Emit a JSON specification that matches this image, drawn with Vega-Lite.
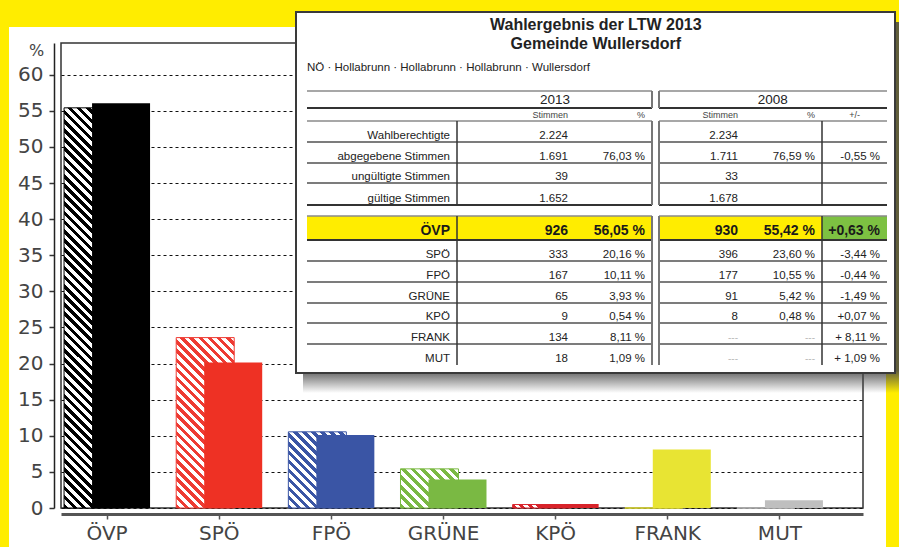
{
"$schema":"https://vega.github.io/schema/vega-lite/v6.json",
"width":802,"height":465,"autosize":"none",
"padding":{"left":61,"top":43,"right":36,"bottom":39},
"background":"#ffffff",
"config":{"view":{"stroke":"#333333","strokeWidth":1.5},"font":"DejaVu Sans"},
"datasets":{
"page":[{"x0":0,"x1":3,"y0":0,"y1":1},{"x0":0,"x1":1,"y0":0,"y1":2},{"x0":2,"x1":3,"y0":0,"y1":2}],
"votes":[
{"party":"ÖVP","year":"2008","pct":55.42},{"party":"SPÖ","year":"2008","pct":23.60},{"party":"FPÖ","year":"2008","pct":10.55},{"party":"GRÜNE","year":"2008","pct":5.42},{"party":"KPÖ","year":"2008","pct":0.48},{"party":"FRANK","year":"2008","pct":0},{"party":"MUT","year":"2008","pct":0},
{"party":"ÖVP","year":"2013","pct":56.05},{"party":"SPÖ","year":"2013","pct":20.16},{"party":"FPÖ","year":"2013","pct":10.11},{"party":"GRÜNE","year":"2013","pct":3.93},{"party":"KPÖ","year":"2013","pct":0.54},{"party":"FRANK","year":"2013","pct":8.11},{"party":"MUT","year":"2013","pct":1.09}],
"rects":[{"k":"shadow","c":-1,"c2":9,"r":-5,"r2":16},{"k":"box","c":-2,"c2":8,"r":-6,"r2":15},{"k":"yel","c":0,"c2":3,"r":7,"r2":8},{"k":"yel","c":4,"c2":6,"r":7,"r2":8},{"k":"grn","c":6,"c2":7,"r":7,"r2":8}],
"hl":[
{"k":"light","c":0,"c2":3,"r":0},{"k":"light","c":4,"c2":7,"r":0},
{"k":"thick","c":0,"c2":3,"r":1},{"k":"thick","c":4,"c2":7,"r":1},
{"k":"light","c":0,"c2":3,"r":2},{"k":"light","c":4,"c2":7,"r":2},
{"k":"mid","c":0,"c2":3,"r":3},{"k":"mid","c":4,"c2":7,"r":3},
{"k":"mid","c":0,"c2":3,"r":4},{"k":"mid","c":4,"c2":7,"r":4},
{"k":"mid","c":0,"c2":3,"r":5},{"k":"mid","c":4,"c2":7,"r":5},
{"k":"thick","c":0,"c2":3,"r":6},{"k":"thick","c":4,"c2":7,"r":6},
{"k":"light","c":0,"c2":3,"r":7},{"k":"light","c":4,"c2":7,"r":7},
{"k":"thick","c":0,"c2":3,"r":8},{"k":"thick","c":4,"c2":7,"r":8},
{"k":"mid","c":0,"c2":3,"r":9},{"k":"mid","c":4,"c2":7,"r":9},
{"k":"mid","c":0,"c2":3,"r":10},{"k":"mid","c":4,"c2":7,"r":10},
{"k":"mid","c":0,"c2":3,"r":11},{"k":"mid","c":4,"c2":7,"r":11},
{"k":"mid","c":0,"c2":3,"r":12},{"k":"mid","c":4,"c2":7,"r":12},
{"k":"mid","c":0,"c2":3,"r":13},{"k":"mid","c":4,"c2":7,"r":13}],
"vl":[
{"k":"dark","c":1,"r":2,"r2":6},{"k":"dark","c":1,"r":7,"r2":14},
{"k":"gray","c":3,"r":0,"r2":1},{"k":"gray","c":3,"r":2,"r2":6},{"k":"gray","c":3,"r":7,"r2":14},
{"k":"gray","c":4,"r":0,"r2":1},{"k":"gray","c":4,"r":2,"r2":6},{"k":"gray","c":4,"r":7,"r2":14},
{"k":"dark","c":6,"r":2,"r2":6},{"k":"dark","c":6,"r":7,"r2":14}],
"cells":[
{"k":"title","t":"Wahlergebnis der LTW 2013","c":2.27,"r":-4},
{"k":"title","t":"Gemeinde Wullersdorf","c":2.27,"r":-3},
{"k":"subt","t":"NÖ · Hollabrunn · Hollabrunn · Hollabrunn · Wullersdorf","c":0,"r":-2},
{"k":"head","t":"2013","c":1.83,"r":1},
{"k":"head","t":"2008","c":5.36,"r":1},
{"k":"sub","t":"Stimmen","c":2,"r":2},
{"k":"sub","t":"%","c":3,"r":2},
{"k":"sub","t":"Stimmen","c":5,"r":2},
{"k":"sub","t":"%","c":6,"r":2},
{"k":"subc","t":"+/-","c":6.5,"r":2},
{"k":"body","t":"Wahlberechtigte","c":1,"r":3},
{"k":"body","t":"2.224","c":2,"r":3},
{"k":"body","t":"2.234","c":5,"r":3},
{"k":"body","t":"abgegebene Stimmen","c":1,"r":4},
{"k":"body","t":"1.691","c":2,"r":4},
{"k":"body","t":"76,03 %","c":3,"r":4},
{"k":"body","t":"1.711","c":5,"r":4},
{"k":"body","t":"76,59 %","c":6,"r":4},
{"k":"body","t":"-0,55 %","c":7,"r":4},
{"k":"body","t":"ungültigte Stimmen","c":1,"r":5},
{"k":"body","t":"39","c":2,"r":5},
{"k":"body","t":"33","c":5,"r":5},
{"k":"body","t":"gültige Stimmen","c":1,"r":6},
{"k":"body","t":"1.652","c":2,"r":6},
{"k":"body","t":"1.678","c":5,"r":6},
{"k":"bold","t":"ÖVP","c":1,"r":8},
{"k":"bold","t":"926","c":2,"r":8},
{"k":"bold","t":"56,05 %","c":3,"r":8},
{"k":"bold","t":"930","c":5,"r":8},
{"k":"bold","t":"55,42 %","c":6,"r":8},
{"k":"bold","t":"+0,63 %","c":7,"r":8},
{"k":"body","t":"SPÖ","c":1,"r":9},
{"k":"body","t":"333","c":2,"r":9},
{"k":"body","t":"20,16 %","c":3,"r":9},
{"k":"body","t":"396","c":5,"r":9},
{"k":"body","t":"23,60 %","c":6,"r":9},
{"k":"body","t":"-3,44 %","c":7,"r":9},
{"k":"body","t":"FPÖ","c":1,"r":10},
{"k":"body","t":"167","c":2,"r":10},
{"k":"body","t":"10,11 %","c":3,"r":10},
{"k":"body","t":"177","c":5,"r":10},
{"k":"body","t":"10,55 %","c":6,"r":10},
{"k":"body","t":"-0,44 %","c":7,"r":10},
{"k":"body","t":"GRÜNE","c":1,"r":11},
{"k":"body","t":"65","c":2,"r":11},
{"k":"body","t":"3,93 %","c":3,"r":11},
{"k":"body","t":"91","c":5,"r":11},
{"k":"body","t":"5,42 %","c":6,"r":11},
{"k":"body","t":"-1,49 %","c":7,"r":11},
{"k":"body","t":"KPÖ","c":1,"r":12},
{"k":"body","t":"9","c":2,"r":12},
{"k":"body","t":"0,54 %","c":3,"r":12},
{"k":"body","t":"8","c":5,"r":12},
{"k":"body","t":"0,48 %","c":6,"r":12},
{"k":"body","t":"+0,07 %","c":7,"r":12},
{"k":"body","t":"FRANK","c":1,"r":13},
{"k":"body","t":"134","c":2,"r":13},
{"k":"body","t":"8,11 %","c":3,"r":13},
{"k":"dash","t":"---","c":5,"r":13},
{"k":"dash","t":"---","c":6,"r":13},
{"k":"body","t":"+ 8,11 %","c":7,"r":13},
{"k":"body","t":"MUT","c":1,"r":14},
{"k":"body","t":"18","c":2,"r":14},
{"k":"body","t":"1,09 %","c":3,"r":14},
{"k":"dash","t":"---","c":5,"r":14},
{"k":"dash","t":"---","c":6,"r":14},
{"k":"body","t":"+ 1,09 %","c":7,"r":14}]
},
"resolve":{"scale":{"x":"independent","y":"independent"}},
"layer":[
{"data":{"name":"page"},
 "mark":{"type":"rect","fill":"#FFED00"},
 "encoding":{
  "x":{"field":"x0","type":"quantitative","scale":{"domain":[0,1,2,3],"range":[-61,-52,825,838],"nice":false,"zero":false},"axis":null},
  "x2":{"field":"x1"},
  "y":{"field":"y0","type":"quantitative","scale":{"domain":[0,1,2],"range":[-43,-16,504],"nice":false,"zero":false},"axis":null},
  "y2":{"field":"y1"}}},
{"data":{"name":"votes"},
 "encoding":{
  "x":{"field":"party","type":"nominal","sort":null,
   "scale":{"domain":["ÖVP","SPÖ","FPÖ","GRÜNE","KPÖ","FRANK","MUT"],"paddingInner":0.1786,"paddingOuter":0.165,"align":0},
   "axis":{"title":null,"orient":"bottom","offset":6,"domainColor":"#555555","domainWidth":3,"tickColor":"#555555","tickWidth":1.5,"tickSize":5,"labelFont":"DejaVu Sans","labelFontSize":20,"labelColor":"#444444","labelPadding":4,"labelAngle":0,"grid":false}},
  "y":{"field":"pct","type":"quantitative",
   "scale":{"domain":[0,64.4],"nice":false},
   "axis":{"title":"%","titleAngle":0,"titleX":-18,"titleY":7,"titleAlign":"center","titleBaseline":"middle","titleFont":"DejaVu Sans","titleFontSize":16,"titleFontWeight":"normal","titleColor":"#444444","offset":7,"values":[0,5,10,15,20,25,30,35,40,45,50,55,60],"domainColor":"#222222","domainWidth":1.5,"tickColor":"#333333","tickSize":5,"tickWidth":1.5,"labelFont":"DejaVu Sans","labelFontSize":20,"labelColor":"#444444","labelPadding":6,"grid":true,"gridColor":"#111111","gridDash":[3,3],"gridWidth":1}}},
 "layer":[
  {"transform":[{"filter":"datum.year == '2008' && datum.party == 'ÖVP'"}],
   "mark":{"type":"bar","width":58,"xOffset":-14,"stroke":"#000000","strokeWidth":1,
    "fill":{"gradient":"linear","x1":0,"y1":1,"x2":0.1625,"y2":-0.1214,"stops":[
{"offset":0,"color":"#000"},{"offset":0.01,"color":"#000"},{"offset":0.01,"color":"#fff"},{"offset":0.02,"color":"#fff"},
{"offset":0.02,"color":"#000"},{"offset":0.03,"color":"#000"},{"offset":0.03,"color":"#fff"},{"offset":0.04,"color":"#fff"},
{"offset":0.04,"color":"#000"},{"offset":0.05,"color":"#000"},{"offset":0.05,"color":"#fff"},{"offset":0.06,"color":"#fff"},
{"offset":0.06,"color":"#000"},{"offset":0.07,"color":"#000"},{"offset":0.07,"color":"#fff"},{"offset":0.08,"color":"#fff"},
{"offset":0.08,"color":"#000"},{"offset":0.09,"color":"#000"},{"offset":0.09,"color":"#fff"},{"offset":0.1,"color":"#fff"},
{"offset":0.1,"color":"#000"},{"offset":0.11,"color":"#000"},{"offset":0.11,"color":"#fff"},{"offset":0.12,"color":"#fff"},
{"offset":0.12,"color":"#000"},{"offset":0.13,"color":"#000"},{"offset":0.13,"color":"#fff"},{"offset":0.14,"color":"#fff"},
{"offset":0.14,"color":"#000"},{"offset":0.15,"color":"#000"},{"offset":0.15,"color":"#fff"},{"offset":0.16,"color":"#fff"},
{"offset":0.16,"color":"#000"},{"offset":0.17,"color":"#000"},{"offset":0.17,"color":"#fff"},{"offset":0.18,"color":"#fff"},
{"offset":0.18,"color":"#000"},{"offset":0.19,"color":"#000"},{"offset":0.19,"color":"#fff"},{"offset":0.2,"color":"#fff"},
{"offset":0.2,"color":"#000"},{"offset":0.21,"color":"#000"},{"offset":0.21,"color":"#fff"},{"offset":0.22,"color":"#fff"},
{"offset":0.22,"color":"#000"},{"offset":0.23,"color":"#000"},{"offset":0.23,"color":"#fff"},{"offset":0.24,"color":"#fff"},
{"offset":0.24,"color":"#000"},{"offset":0.25,"color":"#000"},{"offset":0.25,"color":"#fff"},{"offset":0.26,"color":"#fff"},
{"offset":0.26,"color":"#000"},{"offset":0.27,"color":"#000"},{"offset":0.27,"color":"#fff"},{"offset":0.28,"color":"#fff"},
{"offset":0.28,"color":"#000"},{"offset":0.29,"color":"#000"},{"offset":0.29,"color":"#fff"},{"offset":0.3,"color":"#fff"},
{"offset":0.3,"color":"#000"},{"offset":0.31,"color":"#000"},{"offset":0.31,"color":"#fff"},{"offset":0.32,"color":"#fff"},
{"offset":0.32,"color":"#000"},{"offset":0.33,"color":"#000"},{"offset":0.33,"color":"#fff"},{"offset":0.34,"color":"#fff"},
{"offset":0.34,"color":"#000"},{"offset":0.35,"color":"#000"},{"offset":0.35,"color":"#fff"},{"offset":0.36,"color":"#fff"},
{"offset":0.36,"color":"#000"},{"offset":0.37,"color":"#000"},{"offset":0.37,"color":"#fff"},{"offset":0.38,"color":"#fff"},
{"offset":0.38,"color":"#000"},{"offset":0.39,"color":"#000"},{"offset":0.39,"color":"#fff"},{"offset":0.4,"color":"#fff"},
{"offset":0.4,"color":"#000"},{"offset":0.41,"color":"#000"},{"offset":0.41,"color":"#fff"},{"offset":0.42,"color":"#fff"},
{"offset":0.42,"color":"#000"},{"offset":0.43,"color":"#000"},{"offset":0.43,"color":"#fff"},{"offset":0.44,"color":"#fff"},
{"offset":0.44,"color":"#000"},{"offset":0.45,"color":"#000"},{"offset":0.45,"color":"#fff"},{"offset":0.46,"color":"#fff"},
{"offset":0.46,"color":"#000"},{"offset":0.47,"color":"#000"},{"offset":0.47,"color":"#fff"},{"offset":0.48,"color":"#fff"},
{"offset":0.48,"color":"#000"},{"offset":0.49,"color":"#000"},{"offset":0.49,"color":"#fff"},{"offset":0.5,"color":"#fff"},
{"offset":0.5,"color":"#000"},{"offset":0.51,"color":"#000"},{"offset":0.51,"color":"#fff"},{"offset":0.52,"color":"#fff"},
{"offset":0.52,"color":"#000"},{"offset":0.53,"color":"#000"},{"offset":0.53,"color":"#fff"},{"offset":0.54,"color":"#fff"},
{"offset":0.54,"color":"#000"},{"offset":0.55,"color":"#000"},{"offset":0.55,"color":"#fff"},{"offset":0.56,"color":"#fff"},
{"offset":0.56,"color":"#000"},{"offset":0.57,"color":"#000"},{"offset":0.57,"color":"#fff"},{"offset":0.58,"color":"#fff"},
{"offset":0.58,"color":"#000"},{"offset":0.59,"color":"#000"},{"offset":0.59,"color":"#fff"},{"offset":0.6,"color":"#fff"},
{"offset":0.6,"color":"#000"},{"offset":0.61,"color":"#000"},{"offset":0.61,"color":"#fff"},{"offset":0.62,"color":"#fff"},
{"offset":0.62,"color":"#000"},{"offset":0.63,"color":"#000"},{"offset":0.63,"color":"#fff"},{"offset":0.64,"color":"#fff"},
{"offset":0.64,"color":"#000"},{"offset":0.65,"color":"#000"},{"offset":0.65,"color":"#fff"},{"offset":0.66,"color":"#fff"},
{"offset":0.66,"color":"#000"},{"offset":0.67,"color":"#000"},{"offset":0.67,"color":"#fff"},{"offset":0.68,"color":"#fff"},
{"offset":0.68,"color":"#000"},{"offset":0.69,"color":"#000"},{"offset":0.69,"color":"#fff"},{"offset":0.7,"color":"#fff"},
{"offset":0.7,"color":"#000"},{"offset":0.71,"color":"#000"},{"offset":0.71,"color":"#fff"},{"offset":0.72,"color":"#fff"},
{"offset":0.72,"color":"#000"},{"offset":0.73,"color":"#000"},{"offset":0.73,"color":"#fff"},{"offset":0.74,"color":"#fff"},
{"offset":0.74,"color":"#000"},{"offset":0.75,"color":"#000"},{"offset":0.75,"color":"#fff"},{"offset":0.76,"color":"#fff"},
{"offset":0.76,"color":"#000"},{"offset":0.77,"color":"#000"},{"offset":0.77,"color":"#fff"},{"offset":0.78,"color":"#fff"},
{"offset":0.78,"color":"#000"},{"offset":0.79,"color":"#000"},{"offset":0.79,"color":"#fff"},{"offset":0.8,"color":"#fff"},
{"offset":0.8,"color":"#000"},{"offset":0.81,"color":"#000"},{"offset":0.81,"color":"#fff"},{"offset":0.82,"color":"#fff"},
{"offset":0.82,"color":"#000"},{"offset":0.83,"color":"#000"},{"offset":0.83,"color":"#fff"},{"offset":0.84,"color":"#fff"},
{"offset":0.84,"color":"#000"},{"offset":0.85,"color":"#000"},{"offset":0.85,"color":"#fff"},{"offset":0.86,"color":"#fff"},
{"offset":0.86,"color":"#000"},{"offset":0.87,"color":"#000"},{"offset":0.87,"color":"#fff"},{"offset":0.88,"color":"#fff"},
{"offset":0.88,"color":"#000"},{"offset":0.89,"color":"#000"},{"offset":0.89,"color":"#fff"},{"offset":0.9,"color":"#fff"},
{"offset":0.9,"color":"#000"},{"offset":0.91,"color":"#000"},{"offset":0.91,"color":"#fff"},{"offset":0.92,"color":"#fff"},
{"offset":0.92,"color":"#000"},{"offset":0.93,"color":"#000"},{"offset":0.93,"color":"#fff"},{"offset":0.94,"color":"#fff"},
{"offset":0.94,"color":"#000"},{"offset":0.95,"color":"#000"},{"offset":0.95,"color":"#fff"},{"offset":0.96,"color":"#fff"},
{"offset":0.96,"color":"#000"},{"offset":0.97,"color":"#000"},{"offset":0.97,"color":"#fff"},{"offset":0.98,"color":"#fff"},
{"offset":0.98,"color":"#000"},{"offset":0.99,"color":"#000"},{"offset":0.99,"color":"#fff"},{"offset":1,"color":"#fff"}]}}},
  {"transform":[{"filter":"datum.year == '2008' && datum.party == 'SPÖ'"}],
   "mark":{"type":"bar","width":58,"xOffset":-14,"stroke":"#ee3b33","strokeWidth":1,
    "fill":{"gradient":"linear","x1":0,"y1":1,"x2":0.4089,"y2":-0.2012,"stops":[
{"offset":0,"color":"#ee3b33"},{"offset":0.02,"color":"#ee3b33"},{"offset":0.02,"color":"#fff"},{"offset":0.04,"color":"#fff"},
{"offset":0.04,"color":"#ee3b33"},{"offset":0.06,"color":"#ee3b33"},{"offset":0.06,"color":"#fff"},{"offset":0.08,"color":"#fff"},
{"offset":0.08,"color":"#ee3b33"},{"offset":0.1,"color":"#ee3b33"},{"offset":0.1,"color":"#fff"},{"offset":0.12,"color":"#fff"},
{"offset":0.12,"color":"#ee3b33"},{"offset":0.14,"color":"#ee3b33"},{"offset":0.14,"color":"#fff"},{"offset":0.16,"color":"#fff"},
{"offset":0.16,"color":"#ee3b33"},{"offset":0.18,"color":"#ee3b33"},{"offset":0.18,"color":"#fff"},{"offset":0.2,"color":"#fff"},
{"offset":0.2,"color":"#ee3b33"},{"offset":0.22,"color":"#ee3b33"},{"offset":0.22,"color":"#fff"},{"offset":0.24,"color":"#fff"},
{"offset":0.24,"color":"#ee3b33"},{"offset":0.26,"color":"#ee3b33"},{"offset":0.26,"color":"#fff"},{"offset":0.28,"color":"#fff"},
{"offset":0.28,"color":"#ee3b33"},{"offset":0.3,"color":"#ee3b33"},{"offset":0.3,"color":"#fff"},{"offset":0.32,"color":"#fff"},
{"offset":0.32,"color":"#ee3b33"},{"offset":0.34,"color":"#ee3b33"},{"offset":0.34,"color":"#fff"},{"offset":0.36,"color":"#fff"},
{"offset":0.36,"color":"#ee3b33"},{"offset":0.38,"color":"#ee3b33"},{"offset":0.38,"color":"#fff"},{"offset":0.4,"color":"#fff"},
{"offset":0.4,"color":"#ee3b33"},{"offset":0.42,"color":"#ee3b33"},{"offset":0.42,"color":"#fff"},{"offset":0.44,"color":"#fff"},
{"offset":0.44,"color":"#ee3b33"},{"offset":0.46,"color":"#ee3b33"},{"offset":0.46,"color":"#fff"},{"offset":0.48,"color":"#fff"},
{"offset":0.48,"color":"#ee3b33"},{"offset":0.5,"color":"#ee3b33"},{"offset":0.5,"color":"#fff"},{"offset":0.52,"color":"#fff"},
{"offset":0.52,"color":"#ee3b33"},{"offset":0.54,"color":"#ee3b33"},{"offset":0.54,"color":"#fff"},{"offset":0.56,"color":"#fff"},
{"offset":0.56,"color":"#ee3b33"},{"offset":0.58,"color":"#ee3b33"},{"offset":0.58,"color":"#fff"},{"offset":0.6,"color":"#fff"},
{"offset":0.6,"color":"#ee3b33"},{"offset":0.62,"color":"#ee3b33"},{"offset":0.62,"color":"#fff"},{"offset":0.64,"color":"#fff"},
{"offset":0.64,"color":"#ee3b33"},{"offset":0.66,"color":"#ee3b33"},{"offset":0.66,"color":"#fff"},{"offset":0.68,"color":"#fff"},
{"offset":0.68,"color":"#ee3b33"},{"offset":0.7,"color":"#ee3b33"},{"offset":0.7,"color":"#fff"},{"offset":0.72,"color":"#fff"},
{"offset":0.72,"color":"#ee3b33"},{"offset":0.74,"color":"#ee3b33"},{"offset":0.74,"color":"#fff"},{"offset":0.76,"color":"#fff"},
{"offset":0.76,"color":"#ee3b33"},{"offset":0.78,"color":"#ee3b33"},{"offset":0.78,"color":"#fff"},{"offset":0.8,"color":"#fff"},
{"offset":0.8,"color":"#ee3b33"},{"offset":0.82,"color":"#ee3b33"},{"offset":0.82,"color":"#fff"},{"offset":0.84,"color":"#fff"},
{"offset":0.84,"color":"#ee3b33"},{"offset":0.86,"color":"#ee3b33"},{"offset":0.86,"color":"#fff"},{"offset":0.88,"color":"#fff"},
{"offset":0.88,"color":"#ee3b33"},{"offset":0.9,"color":"#ee3b33"},{"offset":0.9,"color":"#fff"},{"offset":0.92,"color":"#fff"},
{"offset":0.92,"color":"#ee3b33"},{"offset":0.94,"color":"#ee3b33"},{"offset":0.94,"color":"#fff"},{"offset":0.96,"color":"#fff"},
{"offset":0.96,"color":"#ee3b33"},{"offset":0.98,"color":"#ee3b33"},{"offset":0.98,"color":"#fff"},{"offset":1,"color":"#fff"}]}}},
  {"transform":[{"filter":"datum.year == '2008' && datum.party == 'FPÖ'"}],
   "mark":{"type":"bar","width":58,"xOffset":-14,"stroke":"#3a55a5","strokeWidth":1,
    "fill":{"gradient":"linear","x1":0,"y1":1,"x2":0.8488,"y2":-0.1151,"stops":[
{"offset":0,"color":"#3a55a5"},{"offset":0.0333,"color":"#3a55a5"},{"offset":0.0333,"color":"#fff"},{"offset":0.0667,"color":"#fff"},
{"offset":0.0667,"color":"#3a55a5"},{"offset":0.1,"color":"#3a55a5"},{"offset":0.1,"color":"#fff"},{"offset":0.1333,"color":"#fff"},
{"offset":0.1333,"color":"#3a55a5"},{"offset":0.1667,"color":"#3a55a5"},{"offset":0.1667,"color":"#fff"},{"offset":0.2,"color":"#fff"},
{"offset":0.2,"color":"#3a55a5"},{"offset":0.2333,"color":"#3a55a5"},{"offset":0.2333,"color":"#fff"},{"offset":0.2667,"color":"#fff"},
{"offset":0.2667,"color":"#3a55a5"},{"offset":0.3,"color":"#3a55a5"},{"offset":0.3,"color":"#fff"},{"offset":0.3333,"color":"#fff"},
{"offset":0.3333,"color":"#3a55a5"},{"offset":0.3667,"color":"#3a55a5"},{"offset":0.3667,"color":"#fff"},{"offset":0.4,"color":"#fff"},
{"offset":0.4,"color":"#3a55a5"},{"offset":0.4333,"color":"#3a55a5"},{"offset":0.4333,"color":"#fff"},{"offset":0.4667,"color":"#fff"},
{"offset":0.4667,"color":"#3a55a5"},{"offset":0.5,"color":"#3a55a5"},{"offset":0.5,"color":"#fff"},{"offset":0.5333,"color":"#fff"},
{"offset":0.5333,"color":"#3a55a5"},{"offset":0.5667,"color":"#3a55a5"},{"offset":0.5667,"color":"#fff"},{"offset":0.6,"color":"#fff"},
{"offset":0.6,"color":"#3a55a5"},{"offset":0.6333,"color":"#3a55a5"},{"offset":0.6333,"color":"#fff"},{"offset":0.6667,"color":"#fff"},
{"offset":0.6667,"color":"#3a55a5"},{"offset":0.7,"color":"#3a55a5"},{"offset":0.7,"color":"#fff"},{"offset":0.7333,"color":"#fff"},
{"offset":0.7333,"color":"#3a55a5"},{"offset":0.7667,"color":"#3a55a5"},{"offset":0.7667,"color":"#fff"},{"offset":0.8,"color":"#fff"},
{"offset":0.8,"color":"#3a55a5"},{"offset":0.8333,"color":"#3a55a5"},{"offset":0.8333,"color":"#fff"},{"offset":0.8667,"color":"#fff"},
{"offset":0.8667,"color":"#3a55a5"},{"offset":0.9,"color":"#3a55a5"},{"offset":0.9,"color":"#fff"},{"offset":0.9333,"color":"#fff"},
{"offset":0.9333,"color":"#3a55a5"},{"offset":0.9667,"color":"#3a55a5"},{"offset":0.9667,"color":"#fff"},{"offset":1,"color":"#fff"}]}}},
  {"transform":[{"filter":"datum.year == '2008' && datum.party == 'GRÜNE'"}],
   "mark":{"type":"bar","width":58,"xOffset":-14,"stroke":"#7ab943","strokeWidth":1,
    "fill":{"gradient":"linear","x1":0,"y1":1,"x2":1.1508,"y2":0.2234,"stops":[
{"offset":0,"color":"#7ab943"},{"offset":0.05,"color":"#7ab943"},{"offset":0.05,"color":"#fff"},{"offset":0.1,"color":"#fff"},
{"offset":0.1,"color":"#7ab943"},{"offset":0.15,"color":"#7ab943"},{"offset":0.15,"color":"#fff"},{"offset":0.2,"color":"#fff"},
{"offset":0.2,"color":"#7ab943"},{"offset":0.25,"color":"#7ab943"},{"offset":0.25,"color":"#fff"},{"offset":0.3,"color":"#fff"},
{"offset":0.3,"color":"#7ab943"},{"offset":0.35,"color":"#7ab943"},{"offset":0.35,"color":"#fff"},{"offset":0.4,"color":"#fff"},
{"offset":0.4,"color":"#7ab943"},{"offset":0.45,"color":"#7ab943"},{"offset":0.45,"color":"#fff"},{"offset":0.5,"color":"#fff"},
{"offset":0.5,"color":"#7ab943"},{"offset":0.55,"color":"#7ab943"},{"offset":0.55,"color":"#fff"},{"offset":0.6,"color":"#fff"},
{"offset":0.6,"color":"#7ab943"},{"offset":0.65,"color":"#7ab943"},{"offset":0.65,"color":"#fff"},{"offset":0.7,"color":"#fff"},
{"offset":0.7,"color":"#7ab943"},{"offset":0.75,"color":"#7ab943"},{"offset":0.75,"color":"#fff"},{"offset":0.8,"color":"#fff"},
{"offset":0.8,"color":"#7ab943"},{"offset":0.85,"color":"#7ab943"},{"offset":0.85,"color":"#fff"},{"offset":0.9,"color":"#fff"},
{"offset":0.9,"color":"#7ab943"},{"offset":0.95,"color":"#7ab943"},{"offset":0.95,"color":"#fff"},{"offset":1,"color":"#fff"}]}}},
  {"transform":[{"filter":"datum.year == '2008' && datum.party == 'KPÖ'"}],
   "mark":{"type":"bar","width":58,"xOffset":-14,"stroke":"#d8232a","strokeWidth":1,
    "fill":{"gradient":"linear","x1":0,"y1":1,"x2":1.0561,"y2":0.9368,"stops":[
{"offset":0,"color":"#d8232a"},{"offset":0.0714,"color":"#d8232a"},{"offset":0.0714,"color":"#fff"},{"offset":0.1429,"color":"#fff"},
{"offset":0.1429,"color":"#d8232a"},{"offset":0.2143,"color":"#d8232a"},{"offset":0.2143,"color":"#fff"},{"offset":0.2857,"color":"#fff"},
{"offset":0.2857,"color":"#d8232a"},{"offset":0.3571,"color":"#d8232a"},{"offset":0.3571,"color":"#fff"},{"offset":0.4286,"color":"#fff"},
{"offset":0.4286,"color":"#d8232a"},{"offset":0.5,"color":"#d8232a"},{"offset":0.5,"color":"#fff"},{"offset":0.5714,"color":"#fff"},
{"offset":0.5714,"color":"#d8232a"},{"offset":0.6429,"color":"#d8232a"},{"offset":0.6429,"color":"#fff"},{"offset":0.7143,"color":"#fff"},
{"offset":0.7143,"color":"#d8232a"},{"offset":0.7857,"color":"#d8232a"},{"offset":0.7857,"color":"#fff"},{"offset":0.8571,"color":"#fff"},
{"offset":0.8571,"color":"#d8232a"},{"offset":0.9286,"color":"#d8232a"},{"offset":0.9286,"color":"#fff"},{"offset":1,"color":"#fff"}]}}},
  {"transform":[{"filter":"datum.year == '2008' && (datum.party == 'FRANK' || datum.party == 'MUT')"}],
   "mark":{"type":"bar","width":58,"xOffset":-14,"filled":false,"strokeWidth":1.5},
   "encoding":{"color":{"field":"party","type":"nominal","scale":{"domain":["ÖVP","SPÖ","FPÖ","GRÜNE","KPÖ","FRANK","MUT"],"range":["#000000","#ee3124","#3a55a5","#7ab943","#d8232a","#e8e433","#bfbfbf"]},"legend":null}}},
  {"transform":[{"filter":"datum.year == '2013'"}],
   "mark":{"type":"bar","width":58,"xOffset":14},
   "encoding":{"color":{"field":"party","type":"nominal","scale":{"domain":["ÖVP","SPÖ","FPÖ","GRÜNE","KPÖ","FRANK","MUT"],"range":["#000000","#ee3124","#3a55a5","#7ab943","#d8232a","#e8e433","#bfbfbf"]},"legend":null}}}
 ]},
{"encoding":{
  "x":{"field":"c","type":"quantitative","scale":{"domain":[-2,-1,0,1,2,3,4,5,6,7,8,9],"range":[235,242,246,396,514,591,598,684,761,826,834,840],"nice":false,"zero":false},"axis":null},
  "y":{"field":"r","type":"quantitative","scale":{"domain":[-6,-5,-4,-3,-2,0,1,2,3,4,5,6,7,8,9,10,11,12,13,14,15,16],"range":[-31,-21,-13,6,28,48,65,78,99,120,140,162,173,197,218,239,260,280,301,322,330,350],"nice":false,"zero":false},"axis":null}},
 "layer":[
  {"data":{"name":"rects"},"transform":[{"filter":"datum.k == 'shadow'"}],
   "mark":{"type":"rect","fill":{"gradient":"linear","x1":0,"y1":0,"x2":0,"y2":1,"stops":[{"offset":0,"color":"rgba(70,70,70,0.85)"},{"offset":0.94,"color":"rgba(70,70,70,0.85)"},{"offset":1,"color":"rgba(70,70,70,0)"}]}},
   "encoding":{"x2":{"field":"c2"},"y2":{"field":"r2"}}},
  {"data":{"name":"rects"},"transform":[{"filter":"datum.k == 'box'"}],
   "mark":{"type":"rect","fill":"#ffffff","stroke":"#3a3a3a","strokeWidth":2},
   "encoding":{"x2":{"field":"c2"},"y2":{"field":"r2"}}},
  {"data":{"name":"rects"},"transform":[{"filter":"datum.k == 'yel'"}],
   "mark":{"type":"rect","fill":"#FFED00"},
   "encoding":{"x2":{"field":"c2"},"y2":{"field":"r2"}}},
  {"data":{"name":"rects"},"transform":[{"filter":"datum.k == 'grn'"}],
   "mark":{"type":"rect","fill":"#7dc142"},
   "encoding":{"x2":{"field":"c2"},"y2":{"field":"r2"}}},
  {"data":{"name":"hl"},"transform":[{"filter":"datum.k == 'light'"}],
   "mark":{"type":"rule","color":"#8a8a8a","strokeWidth":1.5},
   "encoding":{"x2":{"field":"c2"}}},
  {"data":{"name":"hl"},"transform":[{"filter":"datum.k == 'mid'"}],
   "mark":{"type":"rule","color":"#505050","strokeWidth":1.5},
   "encoding":{"x2":{"field":"c2"}}},
  {"data":{"name":"hl"},"transform":[{"filter":"datum.k == 'thick'"}],
   "mark":{"type":"rule","color":"#333333","strokeWidth":2.2},
   "encoding":{"x2":{"field":"c2"}}},
  {"data":{"name":"vl"},"transform":[{"filter":"datum.k == 'dark'"}],
   "mark":{"type":"rule","color":"#333333","strokeWidth":1.5},
   "encoding":{"y2":{"field":"r2"}}},
  {"data":{"name":"vl"},"transform":[{"filter":"datum.k == 'gray'"}],
   "mark":{"type":"rule","color":"#777777","strokeWidth":2},
   "encoding":{"y2":{"field":"r2"}}},
  {"data":{"name":"cells"},"transform":[{"filter":"datum.k == 'title'"}],
   "mark":{"type":"text","font":"Liberation Sans","fontSize":16,"fontWeight":"bold","align":"center","baseline":"alphabetic","color":"#222222"},
   "encoding":{"text":{"field":"t"}}},
  {"data":{"name":"cells"},"transform":[{"filter":"datum.k == 'subt'"}],
   "mark":{"type":"text","font":"Liberation Sans","fontSize":11.5,"align":"left","baseline":"alphabetic","color":"#222222"},
   "encoding":{"text":{"field":"t"}}},
  {"data":{"name":"cells"},"transform":[{"filter":"datum.k == 'head'"}],
   "mark":{"type":"text","font":"Liberation Sans","fontSize":13.5,"align":"center","baseline":"alphabetic","dy":-3.7,"color":"#222222"},
   "encoding":{"text":{"field":"t"}}},
  {"data":{"name":"cells"},"transform":[{"filter":"datum.k == 'sub'"}],
   "mark":{"type":"text","font":"Liberation Sans","fontSize":9,"align":"right","baseline":"alphabetic","dx":-7,"dy":-3,"color":"#444444"},
   "encoding":{"text":{"field":"t"}}},
  {"data":{"name":"cells"},"transform":[{"filter":"datum.k == 'subc'"}],
   "mark":{"type":"text","font":"Liberation Sans","fontSize":9,"align":"center","baseline":"alphabetic","dy":-3,"color":"#444444"},
   "encoding":{"text":{"field":"t"}}},
  {"data":{"name":"cells"},"transform":[{"filter":"datum.k == 'body'"}],
   "mark":{"type":"text","font":"Liberation Sans","fontSize":11.5,"align":"right","baseline":"alphabetic","dx":-7,"dy":-3,"color":"#222222"},
   "encoding":{"text":{"field":"t"}}},
  {"data":{"name":"cells"},"transform":[{"filter":"datum.k == 'bold'"}],
   "mark":{"type":"text","font":"Liberation Sans","fontSize":14,"fontWeight":"bold","align":"right","baseline":"alphabetic","dx":-7,"dy":-5,"color":"#1a1a1a"},
   "encoding":{"text":{"field":"t"}}},
  {"data":{"name":"cells"},"transform":[{"filter":"datum.k == 'dash'"}],
   "mark":{"type":"text","font":"Liberation Sans","fontSize":10,"align":"right","baseline":"alphabetic","dx":-7,"dy":-3,"color":"#bbbbbb"},
   "encoding":{"text":{"field":"t"}}}
 ]}
]
}
